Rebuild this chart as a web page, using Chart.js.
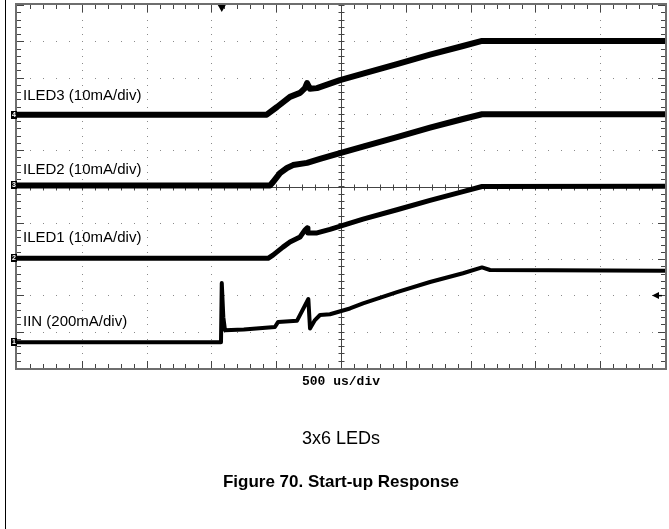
<!DOCTYPE html>
<html>
<head>
<meta charset="utf-8">
<script src="https://cdn.jsdelivr.net/npm/chart.js@4.4.0/dist/chart.umd.min.js"></script>
<style>
    html, body { margin: 0; padding: 0; background: #fff; }
    body { width: 669px; height: 529px; position: relative; overflow: hidden; font-family: 'Liberation Sans', Arial, sans-serif; }
    #scope { position: absolute; left: 0; top: 0; }
    .page-line { position: absolute; left: 5px; top: 0; width: 1px; height: 529px; background: #000; }
    .cap { position: absolute; left: 17px; width: 648px; text-align: center; color: #000; white-space: nowrap; }
    #timebase { top: 375px; font: bold 13px 'Liberation Mono', 'Courier New', monospace; line-height: 14px; }
    #subtitle { top: 428px; font-size: 18px; line-height: 20px; }
    #figtitle { top: 472px; font-size: 17px; font-weight: bold; line-height: 20px; }
</style>
</head>
<body>
<div class="page-line"></div>
<canvas id="scope" width="669" height="529"></canvas>
<div class="cap" id="timebase">500 us/div</div>
<div class="cap" id="subtitle">3x6 LEDs</div>
<div class="cap" id="figtitle">Figure 70. Start-up Response</div>

<script>
// time in us (500 us/div, 10 div), levels in screen divisions (0 = bottom, 10 = top)
const channelNames = ['ILED3 (10mA/div)', 'ILED2 (10mA/div)', 'ILED1 (10mA/div)', 'IIN (200mA/div)'];
const channelNumbers = ['4', '3', '2', '1'];

const iled3Time = [0, 1927, 2006, 2106, 2184, 2222, 2238, 2261, 2315, 2492, 2670, 2932, 3187, 3441, 3588, 5000];
const iled3Div  = [6.98, 6.98, 7.19, 7.47, 7.58, 7.71, 7.85, 7.69, 7.71, 7.93, 8.11, 8.37, 8.63, 8.87, 9.01, 9.01];

const iled2Time = [0, 1952, 1975, 2029, 2083, 2130, 2238, 2338, 2492, 2670, 2932, 3187, 3441, 3588, 5000];
const iled2Div  = [5.03, 5.03, 5.12, 5.37, 5.51, 5.59, 5.65, 5.76, 5.92, 6.10, 6.36, 6.62, 6.86, 6.99, 6.99];

const iled1Time = [0, 1937, 1975, 2052, 2106, 2184, 2222, 2238, 2245, 2315, 2415, 2670, 2932, 3187, 3441, 3588, 5000];
const iled1Div  = [3.02, 3.02, 3.11, 3.33, 3.47, 3.61, 3.80, 3.86, 3.72, 3.72, 3.82, 4.10, 4.36, 4.62, 4.86, 5.00, 5.01];

const iinTime = [0, 1574, 1580, 1592, 1605, 1750, 1990, 2015, 2160, 2248, 2261, 2299, 2338, 2415, 2569, 2670, 2932, 3187, 3441, 3588, 3650, 5000];
const iinDiv  = [0.71, 0.71, 2.34, 1.40, 1.04, 1.06, 1.13, 1.27, 1.30, 1.90, 1.09, 1.32, 1.46, 1.48, 1.64, 1.78, 2.09, 2.37, 2.61, 2.77, 2.70, 2.68];

const triggerTime = 1580;
const triggerLevel = 2.0;

// where the channel captions sit (screen divisions)
const captionLevels = [7.49, 5.45, 3.58, 1.27];

function toPoints(times, levels) {
    return times.map((t, i) => ({ x: t, y: levels[i] }));
}

const scopeGrid = {
    id: 'scopeGrid',
    beforeDatasetsDraw(chart) {
        const { ctx, chartArea: a, scales: { x, y } } = chart;
        ctx.save();

        // dotted graticule
        ctx.fillStyle = '#8a8a8a';
        for (let t = 500; t < 5000; t += 500) {
            if (t === 2500) continue;
            const px = Math.round(x.getPixelForValue(t));
            for (let v = 0.2; v < 10; v += 0.2) {
                ctx.fillRect(px, Math.round(y.getPixelForValue(v)), 1, 1);
            }
        }
        for (let v = 1; v < 10; v++) {
            if (v === 5) continue;
            const py = Math.round(y.getPixelForValue(v));
            for (let t = 100; t < 5000; t += 100) {
                ctx.fillRect(Math.round(x.getPixelForValue(t)), py, 1, 1);
            }
        }

        // center cross with minor ticks
        const cx = Math.round(x.getPixelForValue(2500)) + 0.5;
        const cy = Math.round(y.getPixelForValue(5)) + 0.5;
        ctx.strokeStyle = '#444';
        ctx.lineWidth = 1;
        ctx.beginPath();
        ctx.moveTo(cx, a.top); ctx.lineTo(cx, a.bottom);
        ctx.moveTo(a.left, cy); ctx.lineTo(a.right, cy);
        for (let t = 100; t < 5000; t += 100) {
            const px = Math.round(x.getPixelForValue(t)) + 0.5;
            ctx.moveTo(px, cy - 3); ctx.lineTo(px, cy + 3);
            const major = t % 500 === 0;
            ctx.moveTo(px, a.top); ctx.lineTo(px, a.top + (major ? 7 : 4));
            ctx.moveTo(px, a.bottom); ctx.lineTo(px, a.bottom - (major ? 7 : 4));
        }
        for (let v = 0.2; v < 10; v += 0.2) {
            const py = Math.round(y.getPixelForValue(v)) + 0.5;
            ctx.moveTo(cx - 3, py); ctx.lineTo(cx + 3, py);
            const major = Math.abs(v - Math.round(v)) < 0.01;
            ctx.moveTo(a.left, py); ctx.lineTo(a.left + (major ? 7 : 4), py);
            ctx.moveTo(a.right, py); ctx.lineTo(a.right - (major ? 7 : 4), py);
        }
        ctx.stroke();

        // frame
        ctx.strokeStyle = '#6e6e6e';
        ctx.lineWidth = 2;
        ctx.strokeRect(a.left - 1, a.top - 1, a.right - a.left + 2, a.bottom - a.top + 2);

        // channel captions
        ctx.fillStyle = '#000';
        ctx.font = '15px "Liberation Sans", Arial, sans-serif';
        ctx.textBaseline = 'middle';
        channelNames.forEach((name, i) => {
            ctx.fillText(name, a.left + 6, y.getPixelForValue(captionLevels[i]));
        });
        ctx.restore();
    },
    afterDatasetsDraw(chart) {
        const { ctx, chartArea: a, scales: { x, y } } = chart;
        const baselines = [iled3Div[0], iled2Div[0], iled1Div[0], iinDiv[0]];
        ctx.save();

        // channel ground markers
        ctx.font = 'bold 7px "Liberation Sans", Arial, sans-serif';
        ctx.textAlign = 'center';
        ctx.textBaseline = 'middle';
        baselines.forEach((lvl, i) => {
            const py = Math.round(y.getPixelForValue(lvl));
            ctx.fillStyle = '#000';
            ctx.fillRect(a.left - 6, py - 4, 6, 8);
            ctx.fillStyle = '#fff';
            ctx.fillText(channelNumbers[i], a.left - 3, py + 0.5);
        });

        // trigger position marker
        const tx = x.getPixelForValue(triggerTime);
        ctx.fillStyle = '#000';
        ctx.beginPath();
        ctx.moveTo(tx - 4, a.top);
        ctx.lineTo(tx + 4, a.top);
        ctx.lineTo(tx, a.top + 7);
        ctx.closePath();
        ctx.fill();

        // trigger level marker
        const ty = y.getPixelForValue(triggerLevel);
        ctx.beginPath();
        ctx.moveTo(a.right - 13, ty);
        ctx.lineTo(a.right - 6, ty - 3.5);
        ctx.lineTo(a.right - 6, ty + 3.5);
        ctx.closePath();
        ctx.fill();
        ctx.fillRect(a.right - 7, ty - 0.5, 4, 1.5);
        ctx.restore();
    }
};

function trace(times, levels, width) {
    return {
        data: toPoints(times, levels),
        borderColor: '#000',
        borderWidth: width,
        pointRadius: 0,
        tension: 0,
        borderJoinStyle: 'round',
        fill: false
    };
}

new Chart(document.getElementById('scope'), {
    type: 'line',
    data: {
        datasets: [
            trace(iled3Time, iled3Div, 6),
            trace(iled2Time, iled2Div, 6),
            trace(iled1Time, iled1Div, 5),
            trace(iinTime, iinDiv, 4)
        ]
    },
    options: {
        responsive: false,
        animation: false,
        layout: { padding: { left: 17, top: 5, right: 4, bottom: 161 } },
        scales: {
            x: { type: 'linear', min: 0, max: 5000, display: false },
            y: { type: 'linear', min: 0, max: 10, display: false }
        },
        plugins: {
            legend: { display: false },
            tooltip: { enabled: false }
        }
    },
    plugins: [scopeGrid]
});
</script>
</body>
</html>
